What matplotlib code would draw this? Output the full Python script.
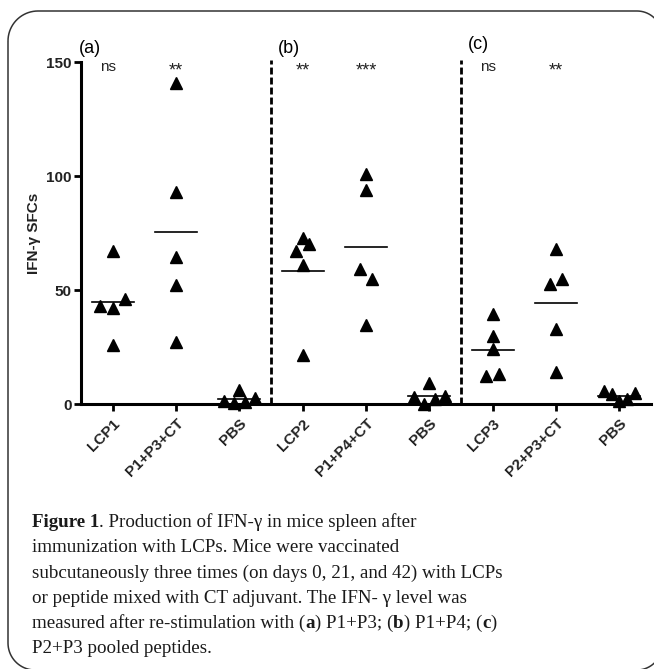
import numpy as np
import matplotlib
matplotlib.use('Agg')
import matplotlib.pyplot as plt
from matplotlib.path import Path
from matplotlib.patches import PathPatch

# ---------------- data ----------------
categories = ['LCP1', 'P1+P3+CT', 'PBS', 'LCP2', 'P1+P4+CT', 'PBS',
              'LCP3', 'P2+P3+CT', 'PBS']
lcp1 = [67, 43, 42, 46, 26]
p1p3ct = [141, 93, 64.5, 52, 27]
pbs_a = [6, 1.5, 0.3, 1.0, 2.8]
lcp2 = [73, 67, 70, 61, 21.5]
p1p4ct = [101, 94, 59, 55, 34.5]
pbs_b = [9, 3.2, 0, 2, 3.6]
lcp3 = [39.5, 30, 24, 12.3, 13]
p2p3ct = [68, 52.5, 55, 33, 14]
pbs_c = [5.8, 4.4, 1.2, 2, 5]
groups = [lcp1, p1p3ct, pbs_a, lcp2, p1p4ct, pbs_b, lcp3, p2p3ct, pbs_c]
significance = ['ns', '**', '', '**', '***', '', 'ns', '**', '']
panel_labels = ['(a)', '(b)', '(c)']
y_ticks = [0, 50, 100, 150]
y_label = 'IFN-\u03b3 SFCs'
caption_lines = [
    [('Figure 1', 'bold'), ('. Production of IFN-\u03b3 in mice spleen after', 'normal')],
    [('immunization with LCPs. Mice were vaccinated', 'normal')],
    [('subcutaneously three times (on days 0, 21, and 42) with LCPs', 'normal')],
    [('or peptide mixed with CT adjuvant. The IFN- \u03b3 level was', 'normal')],
    [('measured after re-stimulation with (', 'normal'), ('a', 'bold'),
     (') P1+P3; (', 'normal'), ('b', 'bold'), (') P1+P4; (', 'normal'),
     ('c', 'bold'), (')', 'normal')],
    [('P2+P3 pooled peptides.', 'normal')],
]

# ---------------- helpers ----------------
def swarm_offsets(vals, row_h=5.0, step=0.2, span=0.49):
    vals = np.asarray(vals, float)
    order = np.argsort(vals, kind='stable')
    offs = np.zeros(len(vals))
    rows, cur = [], []
    for i in order:
        if cur and vals[i] - vals[cur[0]] > row_h:
            rows.append(cur)
            cur = []
        cur.append(i)
    if cur:
        rows.append(cur)
    for row in rows:
        row = sorted(row)
        n = len(row)
        if n == 1:
            continue
        w = min(step, span / (n - 1))
        for k, i in enumerate(row):
            offs[i] = (k - (n - 1) / 2) * w
    return offs

W, H = 654, 669
fig = plt.figure(figsize=(W / 100, H / 100), dpi=100)
plt.rcParams['font.family'] = ['Liberation Sans', 'DejaVu Sans']

def fx(px):
    return px / W

def fy(py):
    return 1 - py / H

ax = fig.add_axes([fx(81), fy(404), fx(651) - fx(81), fy(62) - fy(404)])

x = np.arange(len(categories))
for xi, vals in zip(x, groups):
    offs = swarm_offsets(vals)
    ax.plot(xi + offs, vals, linestyle='none', marker='^', markersize=8,
            color='black', clip_on=False, zorder=3)
    m = np.mean(vals)
    ax.plot([xi - 0.33, xi + 0.33], [m, m], color='black', lw=1.2, zorder=2)

for xi, s in zip(x, significance):
    if s:
        if s == 'ns':
            ax.text(xi - 0.08, 147.8, s, ha='center', va='center', fontsize=11,
                    color='#222222')
        else:
            ax.text(xi, 144.2, s, ha='center', va='baseline', fontsize=13,
                    color='#222222')

for xd in [2.5, 5.5]:
    ax.plot([xd, xd], [0, 151], color='black', lw=2.0,
            linestyle=(0, (2.5, 1.1)), clip_on=False, zorder=1)

for (xl, yl), lab in zip([(-0.36, 156), (2.78, 156), (5.77, 157.5)], panel_labels):
    ax.text(xl, yl, lab, ha='center', va='center', fontsize=13, clip_on=False)

ax.set_xlim(-0.5, 8.5)
ax.set_ylim(0, 150)
ax.set_yticks(y_ticks)
ax.set_yticklabels([str(t) for t in y_ticks], fontweight='bold', fontsize=11,
                   color='#222222')
ax.set_xticks(x)
ax.set_xticklabels(categories, rotation=45, ha='right', rotation_mode='anchor',
                   fontweight='bold', fontsize=11, color='#222222')
ax.tick_params(axis='both', direction='out', length=5, width=2)
ax.tick_params(axis='y', pad=1.5)
ax.tick_params(axis='x', pad=4)
for sp in ['top', 'right']:
    ax.spines[sp].set_visible(False)
for sp in ['left', 'bottom']:
    ax.spines[sp].set_linewidth(2.2)
ax.patch.set_visible(False)
ax.set_ylabel(y_label, fontweight='bold', fontsize=11, color='#222222')
ax.yaxis.set_label_coords(-0.070, 0.5)

# ---------------- frame ----------------
def arc(cx, cy, r, a0, a1, n=20):
    t = np.linspace(np.radians(a0), np.radians(a1), n)
    return np.column_stack([cx + r * np.cos(t), cy + r * np.sin(t)])

L, R, T, B = 8, 662, 11, 670
rtl, rtr, rbr, rbl = 30, 25, 25, 27
pts = np.vstack([
    arc(L + rtl, T + rtl, rtl, 180, 270),
    arc(R - rtr, T + rtr, rtr, 270, 360),
    arc(R - rbr, B - rbr, rbr, 0, 90),
    arc(L + rbl, B - rbl, rbl, 90, 180),
])
pts = np.vstack([pts, pts[:1]])
fpts = np.column_stack([fx(pts[:, 0]), fy(pts[:, 1])])
frame = PathPatch(Path(fpts), facecolor='none', edgecolor='#333333', lw=1.1,
                  transform=fig.transFigure)
fig.add_artist(frame)

# ---------------- caption ----------------
fig.canvas.draw()
renderer = fig.canvas.get_renderer()
cap_fs = 13.7
baselines = [527, 552.5, 577.5, 603, 628, 653]
for segs, by in zip(caption_lines, baselines):
    xp = 32
    for txt, wt in segs:
        t = fig.text(fx(xp), fy(by), txt, fontsize=cap_fs, fontweight=wt,
                     family=['Liberation Serif', 'DejaVu Serif'],
                     ha='left', va='baseline', color='#1a1a1a')
        bb = t.get_window_extent(renderer)
        xp += bb.width

fig.savefig('out.png', dpi=100)
